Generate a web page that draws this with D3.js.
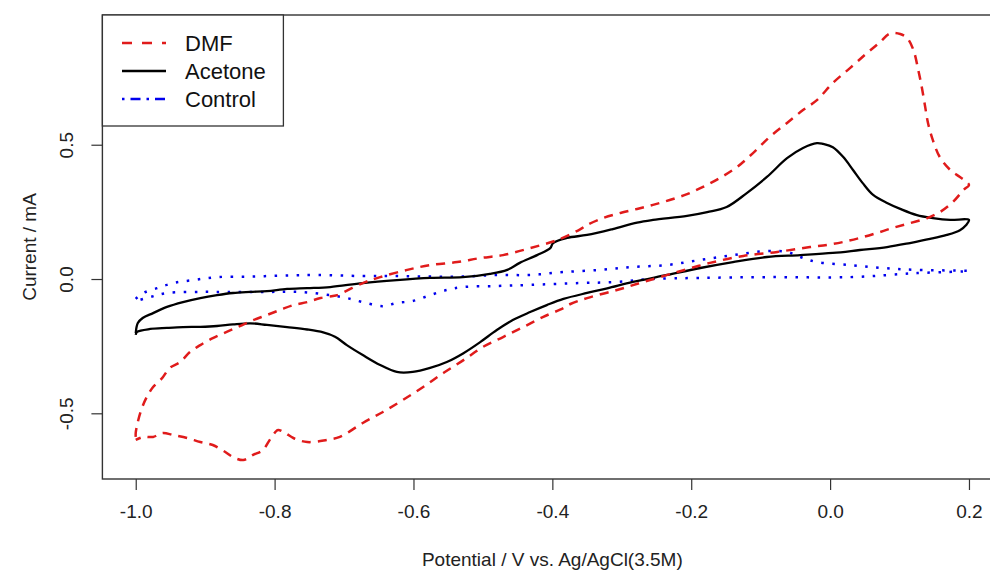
<!DOCTYPE html>
<html>
<head>
<meta charset="utf-8">
<script src="https://cdn.jsdelivr.net/npm/d3@7"></script>
<style>
  html, body { margin: 0; padding: 0; background: #fff; }
  svg { display: block; font-family: "Liberation Sans", Arial, sans-serif; }
</style>
</head>
<body>
<svg id="chart" width="990" height="571"></svg>
<script>
// ---- Data ----
const xTicks = [-1.0, -0.8, -0.6, -0.4, -0.2, 0.0, 0.2];
const yTicks = [-0.5, 0.0, 0.5];
const seriesNames = ["DMF", "Acetone", "Control"];

const dmfV = [-1.000,-1.000,-0.997,-0.991,-0.984,-0.975,-0.962,-0.951,-0.936,-0.922,-0.907,-0.889,-0.869,-0.850,-0.831,-0.811,-0.792,-0.773,-0.753,-0.734,-0.716,-0.710,-0.673,-0.648,-0.609,-0.576,-0.537,-0.504,-0.471,-0.432,-0.393,-0.360,-0.350,-0.327,-0.302,-0.278,-0.255,-0.231,-0.206,-0.183,-0.159,-0.134,-0.111,-0.087,-0.062,-0.039,-0.019,0.004,0.029,0.053,0.072,0.086,0.101,0.111,0.120,0.127,0.132,0.137,0.141,0.148,0.158,0.173,0.187,0.197,0.200,
  0.192,0.177,0.158,0.140,0.115,0.090,0.067,0.043,0.019,-0.004,-0.029,-0.076,-0.125,-0.173,-0.220,-0.269,-0.307,-0.350,-0.374,-0.384,-0.413,-0.442,-0.471,-0.500,-0.528,-0.557,-0.586,-0.615,-0.644,-0.673,-0.706,-0.725,-0.753,-0.773,-0.785,-0.795,-0.799,-0.807,-0.817,-0.831,-0.845,-0.860,-0.871,-0.889,-0.907,-0.926,-0.946,-0.961,-0.975,-0.989,-1.000];
const dmfI = [-0.588,-0.573,-0.532,-0.480,-0.439,-0.402,-0.369,-0.331,-0.309,-0.272,-0.246,-0.220,-0.197,-0.175,-0.153,-0.134,-0.115,-0.097,-0.086,-0.071,-0.063,-0.060,-0.015,0.007,0.034,0.052,0.063,0.078,0.089,0.115,0.145,0.185,0.201,0.227,0.246,0.261,0.276,0.294,0.316,0.343,0.376,0.417,0.469,0.529,0.581,0.629,0.666,0.730,0.786,0.841,0.882,0.914,0.912,0.897,0.853,0.778,0.715,0.640,0.581,0.517,0.454,0.406,0.380,0.361,0.350,
  0.331,0.287,0.249,0.227,0.208,0.190,0.171,0.153,0.138,0.127,0.119,0.101,0.086,0.060,0.026,-0.011,-0.041,-0.071,-0.093,-0.108,-0.141,-0.179,-0.216,-0.253,-0.302,-0.350,-0.402,-0.450,-0.495,-0.536,-0.588,-0.599,-0.607,-0.592,-0.573,-0.562,-0.570,-0.599,-0.637,-0.655,-0.674,-0.663,-0.644,-0.618,-0.607,-0.592,-0.581,-0.573,-0.588,-0.588,-0.599];

const acetoneV = [-1.000,-0.997,-0.990,-0.975,-0.955,-0.932,-0.907,-0.883,-0.860,-0.835,-0.811,-0.782,-0.753,-0.720,-0.673,-0.624,-0.576,-0.529,-0.490,-0.465,-0.447,-0.422,-0.403,-0.399,-0.379,-0.350,-0.313,-0.278,-0.255,-0.206,-0.177,-0.149,-0.120,-0.091,-0.062,-0.039,-0.019,-0.010,0.004,0.019,0.033,0.047,0.062,0.082,0.101,0.125,0.148,0.173,0.200,
  0.196,0.187,0.168,0.144,0.115,0.082,0.043,0.004,-0.043,-0.091,-0.140,-0.187,-0.235,-0.284,-0.321,-0.350,-0.384,-0.408,-0.432,-0.457,-0.480,-0.504,-0.528,-0.552,-0.576,-0.601,-0.624,-0.648,-0.673,-0.696,-0.713,-0.730,-0.753,-0.782,-0.811,-0.835,-0.860,-0.883,-0.907,-0.932,-0.955,-0.979,-0.998,-1.000];
const acetoneI = [-0.201,-0.164,-0.145,-0.127,-0.104,-0.086,-0.071,-0.060,-0.052,-0.048,-0.045,-0.037,-0.034,-0.030,-0.015,-0.004,0.004,0.007,0.019,0.034,0.060,0.089,0.115,0.134,0.153,0.164,0.186,0.210,0.220,0.235,0.249,0.268,0.320,0.380,0.450,0.488,0.506,0.503,0.491,0.454,0.406,0.357,0.313,0.283,0.261,0.238,0.227,0.220,0.220,
  0.201,0.182,0.164,0.149,0.134,0.119,0.108,0.097,0.089,0.082,0.063,0.041,0.015,-0.011,-0.035,-0.052,-0.074,-0.097,-0.123,-0.153,-0.190,-0.235,-0.276,-0.309,-0.331,-0.346,-0.346,-0.320,-0.283,-0.246,-0.215,-0.199,-0.188,-0.179,-0.171,-0.165,-0.169,-0.175,-0.178,-0.179,-0.182,-0.186,-0.197,-0.208];

const controlV = [-1.000,-0.989,-0.969,-0.946,-0.917,-0.883,-0.835,-0.788,-0.739,-0.673,-0.624,-0.576,-0.529,-0.480,-0.432,-0.384,-0.331,-0.284,-0.235,-0.187,-0.140,-0.091,-0.062,-0.043,-0.019,0.029,0.076,0.125,0.200,
  0.125,0.029,-0.091,-0.187,-0.259,-0.307,-0.360,-0.432,-0.480,-0.529,-0.552,-0.576,-0.601,-0.624,-0.644,-0.673,-0.696,-0.720,-0.763,-0.811,-0.883,-0.907,-0.955,-0.979,-1.000];
const controlI = [-0.074,-0.052,-0.034,-0.015,-0.004,0.007,0.009,0.013,0.015,0.011,0.011,0.009,0.009,0.015,0.015,0.026,0.034,0.045,0.052,0.071,0.089,0.104,0.101,0.082,0.063,0.052,0.041,0.034,0.030,
  0.022,0.007,0.007,0.004,0.000,-0.011,-0.015,-0.022,-0.026,-0.030,-0.041,-0.060,-0.082,-0.089,-0.101,-0.086,-0.071,-0.060,-0.048,-0.048,-0.048,-0.048,-0.052,-0.067,-0.082];

// ---- Layout ----
const svg = d3.select("#chart");
const plot = { left: 102.4, right: 1002.3, top: 15, bottom: 479 };

const x = d3.scaleLinear().domain([-1.048, 0.248]).range([plot.left, plot.right]);
const y = d3.scaleLinear().domain([-0.7446, 0.983]).range([plot.bottom, plot.top]);

const axisColor = "#333";
const fontSize = 19;

// Curves
const line = d3.line().x(d => x(d[0])).y(d => y(d[1])).curve(d3.curveCatmullRom.alpha(0.5));
const zip = (a, b) => a.map((v, i) => [v, b[i]]);

const series = [
  { name: seriesNames[0], pts: zip(dmfV, dmfI), color: "#e01b1b", width: 2.5, dash: "9,7", legendDash: "10,10" },
  { name: seriesNames[1], pts: zip(acetoneV, acetoneI), color: "#000000", width: 2.3, dash: null, legendDash: null },
  { name: seriesNames[2], pts: zip(controlV, controlI), color: "#0000ee", width: 2.5, dash: "2.5,8.5", legendDash: "2.5,6,10,6" }
];

const gCurves = svg.append("g");
[series[2], series[1], series[0]].forEach(s => {
  gCurves.append("path")
    .attr("d", line(s.pts))
    .attr("fill", "none")
    .attr("stroke", s.color)
    .attr("stroke-width", s.width)
    .attr("stroke-linejoin", "round")
    .attr("stroke-linecap", "butt")
    .attr("stroke-dasharray", s.dash);
});

// Box
svg.append("rect")
  .attr("x", plot.left).attr("y", plot.top)
  .attr("width", plot.right - plot.left).attr("height", plot.bottom - plot.top)
  .attr("fill", "none").attr("stroke", axisColor).attr("stroke-width", 1.4);

// X axis
const fmt = v => d3.format(".1f")(v).replace("−", "-");
const xAxis = d3.axisBottom(x).tickValues(xTicks).tickSize(11).tickPadding(15).tickFormat(fmt);
const gx = svg.append("g").attr("transform", `translate(0,${plot.bottom})`).call(xAxis);
gx.select(".domain").remove();
gx.selectAll(".tick line").attr("stroke", axisColor).attr("stroke-width", 1.2);
gx.selectAll(".tick text").attr("fill", "#222").attr("font-size", fontSize)
  .attr("font-family", "Liberation Sans, Arial, sans-serif");

// Y axis
const yAxis = d3.axisLeft(y).tickValues(yTicks).tickSize(11).tickFormat(fmt);
const gy = svg.append("g").attr("transform", `translate(${plot.left},0)`).call(yAxis);
gy.select(".domain").remove();
gy.selectAll(".tick line").attr("stroke", axisColor).attr("stroke-width", 1.2);
gy.selectAll(".tick text")
  .attr("x", 0).attr("dy", null)
  .attr("transform", "translate(-29,0) rotate(-90)")
  .attr("text-anchor", "middle")
  .attr("fill", "#222").attr("font-size", fontSize)
  .attr("font-family", "Liberation Sans, Arial, sans-serif");

// Axis titles
svg.append("text")
  .attr("x", (plot.left + plot.right) / 2).attr("y", 566)
  .attr("text-anchor", "middle").attr("font-size", fontSize).attr("fill", "#222")
  .text("Potential / V vs. Ag/AgCl(3.5M)");
svg.append("text")
  .attr("transform", `translate(36,${(plot.top + plot.bottom) / 2}) rotate(-90)`)
  .attr("text-anchor", "middle").attr("font-size", fontSize).attr("fill", "#222")
  .text("Current / mA");

// Legend
const lg = svg.append("g");
lg.append("rect").attr("x", plot.left).attr("y", plot.top)
  .attr("width", 181).attr("height", 111)
  .attr("fill", "#fff").attr("stroke", axisColor).attr("stroke-width", 1.3);
const rowY = [43, 71, 99];
series.forEach((s, i) => {
  lg.append("line").attr("x1", 122).attr("x2", 166).attr("y1", rowY[i]).attr("y2", rowY[i])
    .attr("stroke", s.color).attr("stroke-width", s.width)
    .attr("stroke-dasharray", s.legendDash);
  lg.append("text").attr("x", 185).attr("y", rowY[i]).attr("dy", "0.36em")
    .attr("font-size", 22).attr("fill", "#111").text(s.name);
});
</script>
</body>
</html>
